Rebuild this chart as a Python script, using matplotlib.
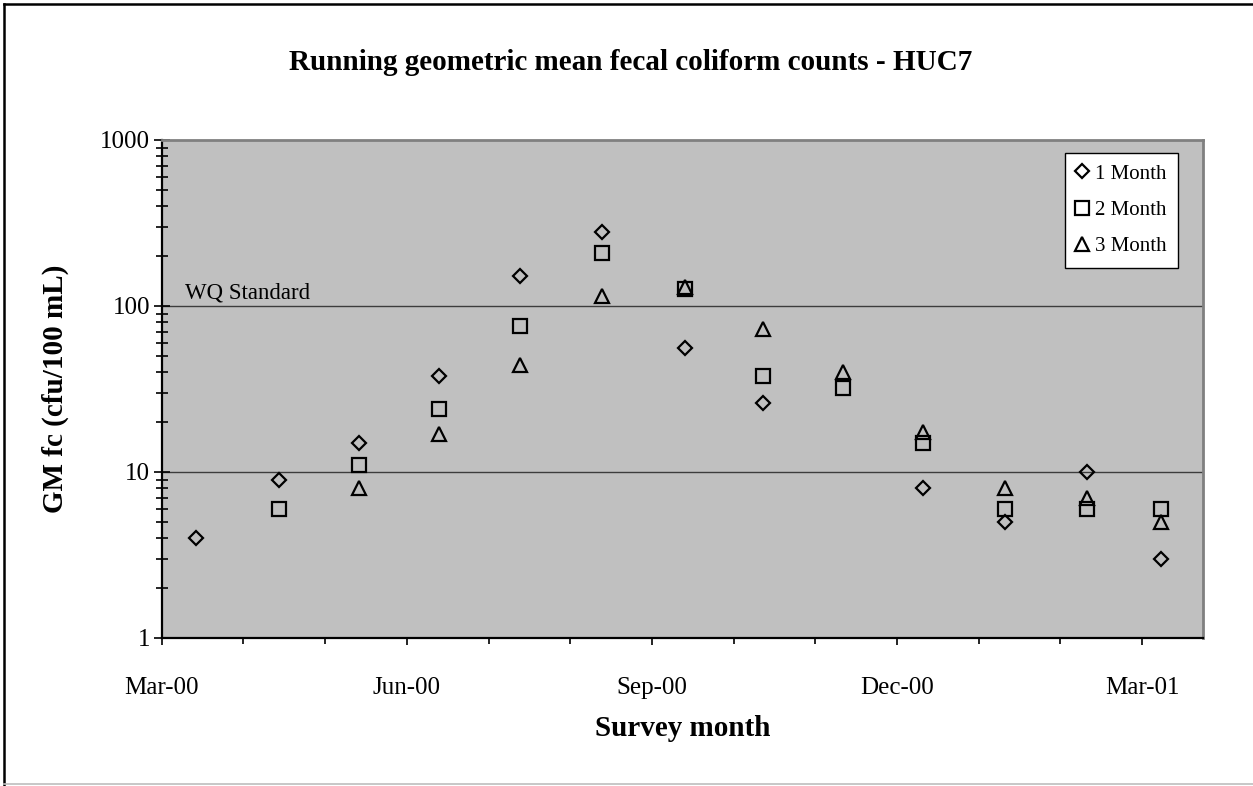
import calendar

import numpy as np
import matplotlib
matplotlib.use("Agg")
import matplotlib.pyplot as plt
import matplotlib.transforms as mtransforms
from matplotlib.lines import Line2D
from matplotlib.ticker import (FixedLocator, FuncFormatter, LogLocator,
                               NullFormatter)

# Survey dates and running geometric means (cfu/100 mL)
survey_dates = ["2000-03-14", "2000-04-14", "2000-05-14", "2000-06-13",
                "2000-07-13", "2000-08-13", "2000-09-13", "2000-10-12",
                "2000-11-11", "2000-12-11", "2001-01-11", "2001-02-10",
                "2001-03-08"]
gm_1month = [4, 9, 15, 38, 152, 280, 56, 26, np.nan, 8, 5, 10, 3]
gm_2month = [np.nan, 6, 11, 24, 76, 208, 127, 38, 32, 15, 6, 6, 6]
gm_3month = [np.nan, np.nan, 8, 17, 44, 115, 131, 73, 40, 17.5, 8, 7, 5]
wq_standard = 100

month_labels = ["Mar-00", "Jun-00", "Sep-00", "Dec-00", "Mar-01"]
series_labels = ["1 Month", "2 Month", "3 Month"]

START_YEAR, START_MONTH = 2000, 3


def month_position(iso):
    """Position on a month axis (each month one unit wide, Mar-00 = 0)."""
    y, m, d = (int(p) for p in iso.split("-"))
    idx = (y - START_YEAR) * 12 + (m - START_MONTH)
    return idx + (d - 1) / calendar.monthrange(y, m)[1]


def label_position(lbl):
    mon, yy = lbl.split("-")
    m = list(calendar.month_abbr).index(mon)
    return (2000 + int(yy) - START_YEAR) * 12 + (m - START_MONTH)


x = [month_position(s) for s in survey_dates]
major_x = [label_position(l) for l in month_labels]

plt.rcParams["font.family"] = ["Liberation Serif", "DejaVu Serif"]

W, H = 1253, 786
fig = plt.figure(figsize=(W / 100, H / 100), dpi=100)
fig.patch.set_facecolor("white")

left, right, top, bottom = 161.7, 1203.0, 140.0, 638.0
ax = fig.add_axes([left / W, 1 - bottom / H, (right - left) / W, (bottom - top) / H])
ax.set_facecolor("#c0c0c0")
ax.set_yscale("log")
ax.set_ylim(1, 1000)
ax.set_xlim(0, 12.745)

# Horizontal gridlines at the decades
for v in (10, 100):
    ax.axhline(v, color="#3c3c3c", lw=1.0, zorder=1)

mk = dict(ls="none", mfc="none", mec="black", mew=1.6, zorder=3)
ax.plot(x, gm_1month, marker="D", ms=7.4, label=series_labels[0], **mk)
ax.plot(x, gm_2month, marker="s", ms=9.6, label=series_labels[1], **mk)
ax.plot(x, gm_3month, marker="^", ms=10, label=series_labels[2], **mk)

# Standard label just above its gridline
off = mtransforms.offset_copy(
    mtransforms.blended_transform_factory(ax.transAxes, ax.transData),
    fig=fig, x=0, y=5.5, units="points")
ax.text(0.022, wq_standard, "WQ Standard", transform=off, fontsize=16.5,
        va="baseline", ha="left")

# Y axis
ax.yaxis.set_major_locator(LogLocator(base=10, numticks=10))
ax.yaxis.set_minor_locator(LogLocator(base=10, subs=np.arange(2, 10), numticks=10))
ax.yaxis.set_major_formatter(FuncFormatter(lambda v, p: f"{v:g}"))
ax.yaxis.set_minor_formatter(NullFormatter())
ax.tick_params(axis="y", which="major", direction="inout", length=11,
               width=1.2, labelsize=18, pad=3)
ax.tick_params(axis="y", which="minor", direction="inout", length=9, width=1.2)

# X axis: months, labelled quarterly
ax.xaxis.set_major_locator(FixedLocator(major_x))
ax.xaxis.set_minor_locator(FixedLocator(range(0, 13)))
ax.set_xticklabels(month_labels)
ax.tick_params(axis="x", which="major", direction="out", length=5,
               width=1.2, labelsize=18, pad=23)
ax.tick_params(axis="x", which="minor", direction="out", length=4, width=1.2)

for side in ("left", "bottom"):
    ax.spines[side].set_color("black")
    ax.spines[side].set_linewidth(1.6)
for side in ("top", "right"):
    ax.spines[side].set_color("#808080")
    ax.spines[side].set_linewidth(2.0)

leg = ax.legend(loc="upper right", bbox_to_anchor=((1178 - left) / (right - left),
                                                   1 - (152.7 - top) / (bottom - top)),
                fontsize=15, frameon=True, fancybox=False, edgecolor="black",
                framealpha=1, borderaxespad=0, handlelength=0.6,
                handletextpad=0.3, borderpad=0.55, labelspacing=0.8)
leg.get_frame().set_linewidth(1.0)

fig.text(631 / W, 1 - 62 / H, "Running geometric mean fecal coliform counts - HUC7",
         ha="center", va="center", fontsize=21, fontweight="bold")
fig.text((left + right) / 2 / W, 1 - 729 / H, "Survey month",
         ha="center", va="center", fontsize=21, fontweight="bold")
fig.text(55 / W, 1 - (top + bottom) / 2 / H, "GM fc (cfu/100 mL)",
         ha="center", va="center", rotation=90, fontsize=21, fontweight="bold")

# Chart border
fig.add_artist(Line2D([4 / W, 4 / W], [0, 1 - 4 / H], transform=fig.transFigure,
                      color="black", lw=1.8))
fig.add_artist(Line2D([4 / W, 1], [1 - 4 / H, 1 - 4 / H], transform=fig.transFigure,
                      color="black", lw=1.8))
fig.add_artist(Line2D([4 / W, 1], [2 / H, 2 / H], transform=fig.transFigure,
                      color="#bdbdbd", lw=1.2))

fig.savefig("out.png", dpi=100)
